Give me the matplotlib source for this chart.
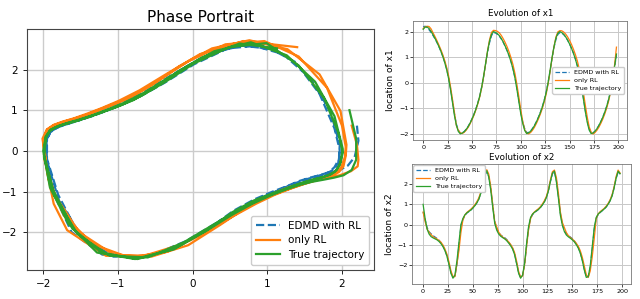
import numpy as np
import matplotlib
matplotlib.use("Agg")
import matplotlib.pyplot as plt

plt.rcParams['font.family'] = ['DejaVu Sans']

# time steps (every 2nd step of the 200-step rollout)
steps = np.arange(0, 200, 2)

# True trajectory
true_x1 = [2.10, 2.19, 2.19, 2.13, 2.02, 1.89, 1.75, 1.60, 1.43, 1.25, 1.04, 0.80, 0.52, 0.17, -0.27, -0.77, -1.28, -1.66, -1.91, -2.00,
           -1.97, -1.92, -1.83, -1.72, -1.58, -1.42, -1.24, -1.03, -0.79, -0.51, -0.15, 0.29, 0.78, 1.26, 1.64, 1.90, 2.01,
           1.98, 1.93, 1.85, 1.74, 1.60, 1.44, 1.26, 1.06, 0.82, 0.54, 0.19, -0.25, -0.74, -1.22, -1.60, -1.87, -1.99,
           -1.96, -1.90, -1.80, -1.68, -1.53, -1.36, -1.17, -0.95, -0.69, -0.38, 0.02, 0.49, 0.99, 1.42, 1.76, 1.95, 2.01,
           1.97, 1.90, 1.80, 1.67, 1.52, 1.35, 1.15, 0.92, 0.65, 0.31, -0.12, -0.60, -1.11, -1.54, -1.85, -1.99,
           -1.97, -1.90, -1.80, -1.67, -1.52, -1.35, -1.15, -0.92, -0.65, -0.31, 0.13, 0.63, 1.13]
true_x2 = [1.00, 0.30, -0.22, -0.47, -0.60, -0.66, -0.71, -0.76, -0.84, -0.95, -1.10, -1.30, -1.58, -1.98, -2.42, -2.66, -2.50, -1.80, -0.90, 0.00,
           0.30, 0.48, 0.58, 0.65, 0.72, 0.82, 0.93, 1.07, 1.25, 1.55, 2.00, 2.45, 2.67, 2.35, 1.70, 0.85, 0.05,
           -0.28, -0.47, -0.58, -0.65, -0.71, -0.80, -0.92, -1.05, -1.22, -1.50, -1.95, -2.42, -2.66, -2.50, -1.92, -0.95, -0.10,
           0.35, 0.52, 0.61, 0.68, 0.75, 0.85, 0.98, 1.13, 1.35, 1.68, 2.15, 2.55, 2.65, 2.10, 1.30, 0.45, -0.05,
           -0.35, -0.52, -0.61, -0.68, -0.76, -0.86, -1.00, -1.17, -1.42, -1.78, -2.25, -2.62, -2.58, -2.05, -1.10, -0.15,
           0.35, 0.52, 0.61, 0.69, 0.77, 0.87, 1.01, 1.18, 1.43, 1.82, 2.30, 2.64, 2.52]

# EDMD with RL
edmd_x1 = [2.20, 2.22, 2.17, 2.08, 1.98, 1.86, 1.73, 1.59, 1.43, 1.25, 1.05, 0.82, 0.55, 0.21, -0.22, -0.71, -1.21, -1.62, -1.86, -1.97,
           -1.96, -1.91, -1.82, -1.71, -1.57, -1.41, -1.23, -1.02, -0.78, -0.50, -0.15, 0.27, 0.75, 1.21, 1.58, 1.85, 1.97,
           1.96, 1.90, 1.83, 1.72, 1.59, 1.43, 1.26, 1.06, 0.83, 0.55, 0.21, -0.22, -0.70, -1.17, -1.54, -1.80, -1.95,
           -1.95, -1.89, -1.79, -1.67, -1.52, -1.35, -1.16, -0.94, -0.68, -0.37, 0.02, 0.47, 0.95, 1.38, 1.70, 1.90, 1.97,
           1.95, 1.89, 1.80, 1.67, 1.52, 1.35, 1.16, 0.93, 0.66, 0.33, -0.09, -0.56, -1.06, -1.48, -1.79, -1.95,
           -1.96, -1.90, -1.80, -1.67, -1.52, -1.35, -1.15, -0.92, -0.65, -0.32, 0.11, 0.60, 1.08]
edmd_x2 = [0.62, 0.25, -0.15, -0.36, -0.46, -0.55, -0.62, -0.69, -0.78, -0.90, -1.06, -1.27, -1.55, -1.95, -2.38, -2.62, -2.55, -2.00, -1.05, -0.08,
           0.25, 0.45, 0.57, 0.64, 0.72, 0.82, 0.94, 1.08, 1.27, 1.56, 2.00, 2.42, 2.62, 2.38, 1.78, 0.95, 0.15,
           -0.20, -0.40, -0.52, -0.59, -0.65, -0.74, -0.87, -1.01, -1.19, -1.47, -1.92, -2.38, -2.63, -2.52, -2.00, -1.08, -0.20,
           0.30, 0.49, 0.59, 0.67, 0.75, 0.85, 0.98, 1.14, 1.36, 1.68, 2.13, 2.52, 2.60, 2.18, 1.40, 0.55, 0.02,
           -0.30, -0.46, -0.55, -0.62, -0.70, -0.81, -0.96, -1.14, -1.40, -1.76, -2.22, -2.58, -2.60, -2.12, -1.22, -0.25,
           0.30, 0.50, 0.60, 0.68, 0.77, 0.87, 1.01, 1.19, 1.44, 1.82, 2.28, 2.60, 2.50]

# only RL
rl_x1 = [2.13, 2.20, 2.22, 2.21, 2.12, 1.97, 1.82, 1.66, 1.49, 1.31, 1.11, 0.88, 0.61, 0.28, -0.15, -0.65, -1.16, -1.68, -1.86, -1.96,
         -1.99, -1.94, -1.86, -1.75, -1.61, -1.45, -1.27, -1.06, -0.82, -0.54, -0.18, 0.26, 0.76, 1.27, 1.70, 1.98, 2.06,
         2.05, 2.02, 1.96, 1.86, 1.73, 1.58, 1.41, 1.21, 0.98, 0.71, 0.37, -0.06, -0.55, -1.06, -1.52, -1.84, -1.98,
         -2.00, -1.95, -1.86, -1.74, -1.59, -1.42, -1.23, -1.01, -0.75, -0.44, -0.04, 0.44, 0.96, 1.42, 1.80, 2.00, 2.05,
         2.04, 1.99, 1.91, 1.80, 1.66, 1.50, 1.31, 1.10, 0.85, 0.53, 0.13, -0.34, -0.85, -1.33, -1.72, -1.93,
         -2.01, -1.95, -1.86, -1.74, -1.59, -1.42, -1.22, -0.99, -0.71, -0.36, 0.10, 0.68, 1.40]
rl_x2 = [0.62, 0.15, -0.22, -0.38, -0.50, -0.60, -0.66, -0.72, -0.79, -0.88, -1.02, -1.22, -1.48, -1.85, -2.30, -2.58, -2.58, -1.95, -1.30, -0.40,
         0.22, 0.47, 0.60, 0.68, 0.76, 0.86, 0.98, 1.13, 1.32, 1.62, 2.08, 2.52, 2.72, 2.50, 1.88, 0.98, 0.15,
         -0.12, -0.38, -0.52, -0.62, -0.69, -0.76, -0.86, -0.99, -1.15, -1.40, -1.82, -2.32, -2.60, -2.55, -2.00, -1.10, -0.25,
         0.28, 0.52, 0.63, 0.71, 0.79, 0.89, 1.03, 1.19, 1.41, 1.75, 2.22, 2.62, 2.70, 2.32, 1.55, 0.62, 0.10,
         -0.15, -0.40, -0.55, -0.64, -0.72, -0.81, -0.93, -1.08, -1.30, -1.62, -2.05, -2.48, -2.62, -2.30, -1.60, -0.70,
         0.30, 0.53, 0.64, 0.72, 0.80, 0.91, 1.05, 1.23, 1.49, 1.88, 2.38, 2.70, 2.55]

labels = ["EDMD with RL", "only RL", "True trajectory"]
colors = ["#1f77b4", "#ff7f0e", "#2ca02c"]
styles = ["--", "-", "-"]
ticks_small = [-2, -1, 0, 1, 2]
time_ticks = [0, 25, 50, 75, 100, 125, 150, 175, 200]

fig = plt.figure(figsize=(6.4, 2.99), dpi=100)

# ---- Phase portrait ----
ax = fig.add_axes([0.0417, 0.097, 0.543, 0.805])
series = [(edmd_x1, edmd_x2), (rl_x1, rl_x2), (true_x1, true_x2)]
for (a, b), lab, c, ls in zip(series, labels, colors, styles):
    ax.plot(a, b, ls, color=c, lw=1.6, label=lab)
ax.set_xticks(ticks_small)
ax.set_yticks(ticks_small)
ax.tick_params(labelsize=7.5, length=3, width=0.6)
ax.grid(True, color="#cccccc", lw=1.0)
ax.set_title("Phase Portrait", fontsize=11, pad=5)
for s in ax.spines.values():
    s.set_color("#444444")
    s.set_linewidth(0.8)
ax.legend(loc="lower right", fontsize=7.5, handlelength=2.3, borderpad=0.45,
          labelspacing=0.45, framealpha=1.0, edgecolor="#cccccc")

# ---- Evolution of x1 ----
ax1 = fig.add_axes([0.646, 0.532, 0.334, 0.399])
for d, lab, c, ls in zip([edmd_x1, rl_x1, true_x1], labels, colors, styles):
    ax1.plot(steps, d, ls, color=c, lw=0.9, label=lab)
ax1.set_xlim(-10, 209)
ax1.set_ylim(-2.24, 2.44)
ax1.set_xticks(time_ticks)
ax1.set_yticks(ticks_small)
ax1.tick_params(labelsize=4.6, length=2, width=0.5, pad=1.5)
ax1.grid(True, color="#c8c8c8", lw=0.7)
ax1.set_title("Evolution of x1", fontsize=6.3, pad=3)
ax1.set_ylabel("location of x1", fontsize=6.5, labelpad=3)
for s in ax1.spines.values():
    s.set_color("#777777")
    s.set_linewidth(0.6)
ax1.legend(loc="center right", fontsize=4.6, handlelength=2.2, borderpad=0.4,
           labelspacing=0.4, framealpha=1.0, edgecolor="#cccccc")

# ---- Evolution of x2 ----
ax2 = fig.add_axes([0.644, 0.050, 0.342, 0.4015])
for d, lab, c, ls in zip([edmd_x2, rl_x2, true_x2], labels, colors, styles):
    ax2.plot(steps, d, ls, color=c, lw=0.9, label=lab)
ax2.set_xlim(-11, 209)
ax2.set_ylim(-2.95, 3.0)
ax2.set_xticks(time_ticks)
ax2.set_yticks(ticks_small)
ax2.tick_params(labelsize=4.6, length=2, width=0.5, pad=1.5)
ax2.grid(True, color="#c8c8c8", lw=0.7)
ax2.set_title("Evolution of x2", fontsize=6.3, pad=3)
ax2.set_ylabel("location of x2", fontsize=6.5, labelpad=3)
for s in ax2.spines.values():
    s.set_color("#777777")
    s.set_linewidth(0.6)
ax2.legend(loc="upper left", fontsize=4.6, handlelength=2.2, borderpad=0.4,
           labelspacing=0.4, framealpha=1.0, edgecolor="#cccccc", borderaxespad=0.2)

fig.savefig("out.png", dpi=100)
